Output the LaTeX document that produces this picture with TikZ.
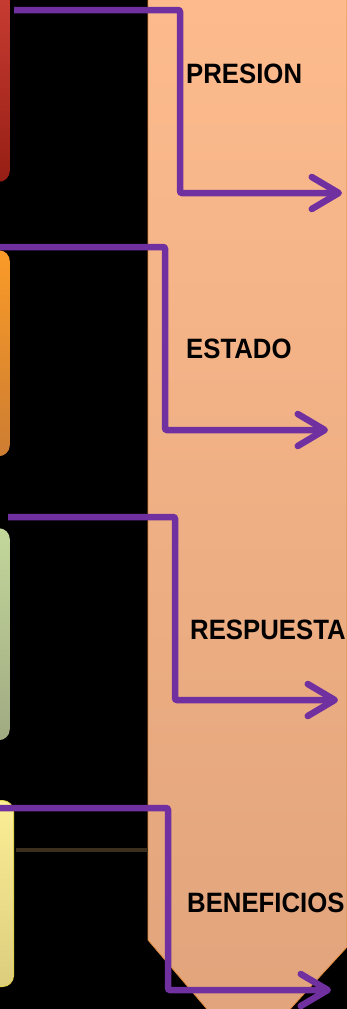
\documentclass[tikz,border=0pt]{standalone}
\usepackage{fontspec}
\setmainfont{Liberation Sans}
\usetikzlibrary{arrows.meta}

\definecolor{morado}{RGB}{112,48,160}
\definecolor{bandaarriba}{RGB}{253,187,141}
\definecolor{bandaabajo}{RGB}{224,163,123}
\definecolor{bandaborde}{RGB}{226,138,60}

\tikzset{
  flecha/.style={draw=morado, line width=6.5pt, rounded corners=2pt,
    -{Straight Barb[length=27pt,width=32pt,round]}},
  caja/.style={rounded corners=11pt, draw=none, minimum width=60pt, inner sep=0pt},
  etiqueta/.style={anchor=west, inner sep=0pt, xscale=0.92,
    font=\fontsize{28}{30}\selectfont\bfseries}
}

\begin{document}
\begin{tikzpicture}[x=1pt,y=-1pt]
\useasboundingbox (0,0) rectangle (347,1009);
\clip (0,0) rectangle (347,1009);
\fill[black] (0,0) rectangle (347,1009);

% banda
\shade[top color=bandaarriba, bottom color=bandaabajo, draw=bandaborde, line width=0.8pt]
  (148,-5) -- (148,940) -- (247,1056) -- (347,947) -- (347,-5) -- cycle;

% cajas de la izquierda
\node[caja, minimum height=210pt, anchor=south east, top color={rgb,255:red,206;green,64;blue,54},
  bottom color={rgb,255:red,150;green,30;blue,20}] (cajapresion) at (10,182) {};
\node[caja, minimum height=206pt, anchor=north east, top color={rgb,255:red,250;green,155;blue,40},
  bottom color={rgb,255:red,205;green,125;blue,50}] (cajaestado) at (10,250) {};
\node[caja, minimum height=212pt, anchor=north east, top color={rgb,255:red,195;green,215;blue,155},
  bottom color={rgb,255:red,160;green,170;blue,130}] (cajarespuesta) at (10,528) {};
\node[caja, minimum height=186pt, anchor=north east, draw={rgb,255:red,228;green,208;blue,80}, line width=1pt,
  top color={rgb,255:red,252;green,238;blue,150}, bottom color={rgb,255:red,220;green,205;blue,125}] (cajabeneficios) at (14,800) {};

\draw[line width=4pt, color={rgb,255:red,60;green,46;blue,28}] (16,850) -- (148,850);

% etiquetas
\node[etiqueta] (presion) at (186,74) {PRESION};
\node[etiqueta] (estado) at (186,349) {ESTADO};
\node[etiqueta] (respuesta) at (190,630) {RESPUESTA};
\node[etiqueta] (beneficios) at (187,903) {BENEFICIOS};

% conectores
\coordinate (ini1) at (14,10);   \coordinate (codo1) at (180,193); \coordinate (fin1) at (342,193);
\coordinate (ini2) at (-2,247);  \coordinate (codo2) at (165,430); \coordinate (fin2) at (328,430);
\coordinate (ini3) at (8,517);   \coordinate (codo3) at (175,700); \coordinate (fin3) at (338,700);
\coordinate (ini4) at (-2,808);  \coordinate (codo4) at (168,990); \coordinate (fin4) at (331,990);

\draw[flecha] (ini1) -| (codo1) -- (fin1);
\draw[flecha] (ini2) -| (codo2) -- (fin2);
\draw[flecha] (ini3) -| (codo3) -- (fin3);
\draw[flecha] (ini4) -| (codo4) -- (fin4);
\end{tikzpicture}
\end{document}
